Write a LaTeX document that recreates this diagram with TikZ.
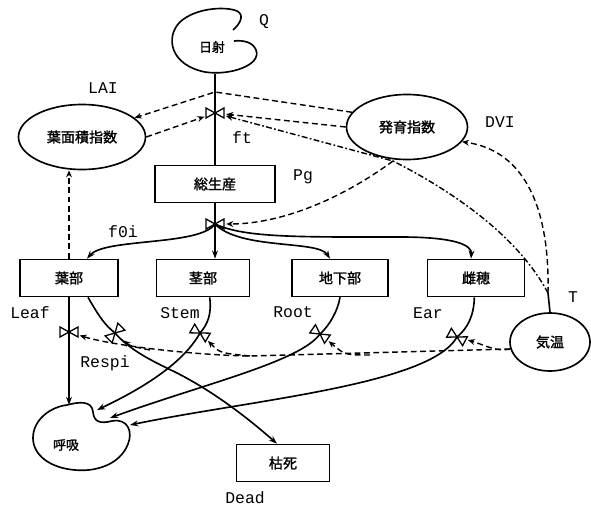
\documentclass[tikz,border=0pt]{standalone}
\usepackage{fontspec}
\newfontfamily\jfont{Noto Sans CJK JP}[FakeBold=1.5]
\newfontfamily\labfont{Liberation Mono}
\usetikzlibrary{positioning, arrows.meta, shapes.geometric}

\tikzset{
  valve/.pic={\draw[line width=1.1pt] (-9,-5) -- (9,5) -- (9,-5) -- (-9,5) -- cycle;}
}

\begin{document}
\begin{tikzpicture}[x=0.03cm,y=-0.03cm,>=Stealth,
  box/.style={draw,line width=1.4pt,minimum height=1.11cm,font=\jfont\fontsize{12}{14}\selectfont},
  oval/.style={draw,ellipse,line width=1.4pt,inner sep=0pt,font=\jfont\fontsize{12}{14}\selectfont},
  lab/.style={font=\labfont\fontsize{14}{16}\selectfont},
  vlv/.style={circle,minimum size=0.66cm,inner sep=0pt},
  flow/.style={line width=1.4pt,-{Stealth[length=7pt,width=5pt]}},
  info/.style={line width=1.2pt,dash pattern=on 5pt off 3pt,-{Stealth[length=6pt,width=5pt]}}]
  \useasboundingbox (0,0) rectangle (591,508);

  % source
  \draw[line width=1.4pt] (233,30) .. controls (240,24) and (245,15) .. (237,11)
       .. controls (225,6) and (195,8) .. (180,22) .. controls (165,37) and (170,65) .. (205,72)
       .. controls (230,76) and (262,65) .. (256,50) .. controls (253,42) and (243,40) .. (234,41);
  \node[font=\jfont\fontsize{11}{13}\selectfont] (sun) at (212,47) {日射};
  \coordinate (sunb) at (215,74);
  \node[lab] (lQ) at (264,22) {Q};

  % auxiliaries
  \node[oval,minimum width=3.81cm,minimum height=1.95cm] (lai) at (82,137) {葉面積指数};
  \node[oval,minimum width=3.63cm,minimum height=1.95cm] (dvi) at (407,127) {発育指数};
  \node[oval,minimum width=2.4cm,minimum height=1.74cm] (temp) at (550,342) {気温};

  % levels
  \node[box,minimum width=3.6cm] (pg) at (215,184) {総生産};
  \node[box,minimum width=2.94cm] (leaf) at (69,278) {葉部};
  \node[box,minimum width=2.79cm] (stem) at (203,278) {茎部};
  \node[box,minimum width=2.88cm] (root) at (340,278) {地下部};
  \node[box,minimum width=2.91cm] (ear) at (476,278) {雌穂};
  \node[box,minimum width=2.79cm] (dead) at (283,463) {枯死};

  % sink
  \draw[line width=1.4pt] (67,405) .. controls (78,402) and (92,400) .. (93,412)
       .. controls (94,422) and (100,424) .. (112,421) .. controls (128,418) and (133,432) .. (128,444)
       .. controls (120,465) and (95,472) .. (75,470) .. controls (50,468) and (33,455) .. (33,438)
       .. controls (33,420) and (50,407) .. (67,405) -- cycle;
  \node[font=\jfont\fontsize{11}{13}\selectfont] (resp) at (66,445) {呼吸};
  \coordinate (respt) at (69,405);
  \coordinate (respst) at (97,410);
  \coordinate (resprt) at (110,418);
  \coordinate (respet) at (130,425);

  % valves
  \node[vlv] (ftv) at (215,113) {};
  \coordinate (ftj) at (215,92);
  \node[vlv] (partv) at (215,224) {};
  \node[vlv] (rv1) at (69,332) {};
  \node[vlv] (dv) at (115,333) {};
  \node[vlv] (rv2) at (200,333) {};
  \node[vlv] (rv3) at (320,334) {};
  \node[vlv] (rv4) at (457,337) {};
  \coordinate (dvij) at (393,161);
  \coordinate (tj) at (548,293);
  \coordinate (b3) at (370,355);
  \coordinate (b2) at (250,356);
  \coordinate (b1) at (150,350);

  % flows
  \draw[line width=1.4pt] (sunb) -- (pg.north);
  \draw[flow] (pg.south) -- (pg.south |- stem.north);
  \draw[flow] (partv.center) .. controls (200,246) and (105,238) .. ([xshift=0.54cm]leaf.north);
  \draw[flow] (partv.center) .. controls (240,250) and (318,240) .. ([xshift=-0.3cm]root.north);
  \draw[flow] (partv.center) .. controls (245,238) and (300,237) .. (400,237)
       .. controls (455,237) and (472,245) .. ([xshift=-0.15cm]ear.north);
  \draw[flow] (leaf.south) -- (respt);
  \draw[flow] ([xshift=0.57cm]leaf.south) .. controls (100,318) and (105,325) .. (dv.center)
       .. controls (130,350) and (150,360) .. (175,372) .. controls (215,392) and (250,420) .. ([xshift=-0.18cm]dead.north);
  \draw[flow] ([xshift=0.2cm]stem.south) .. controls (212,315) and (207,325) .. (rv2.center)
       .. controls (185,360) and (150,385) .. (respst);
  \draw[flow] (root.south) .. controls (338,310) and (330,325) .. (rv3.center)
       .. controls (300,362) and (200,385) .. (resprt);
  \draw[flow] ([xshift=-0.05cm]ear.south) .. controls (474,315) and (468,328) .. (rv4.center)
       .. controls (430,385) and (250,400) .. (respet);

  % information links
  \draw[info] (dvi.165) -- (ftj) -- (lai.20);
  \draw[info] (dvi.west) -- (ftv);
  \draw[info] (lai.east) -- (ftv);
  \draw[info] (leaf.north) -- (leaf.north |- lai.south);
  \draw[line width=1.4pt] (temp.north) -- (tj);
  \draw[info,dash pattern=on 5pt off 2pt on 1.5pt off 2pt] (tj) .. controls (520,240) and (460,195) .. (dvij) -- (ftv);
  \draw[info] (dvij) .. controls (340,200) and (280,224) .. (partv);
  \draw[info] (tj) .. controls (550,200) and (520,150) .. (dvi.-15);
  \draw[info] (temp.190) .. controls (495,352) and (485,345) .. (rv4);
  \draw[info] (temp.190) -- (b2) .. controls (190,355) and (110,345) .. (rv1);
  \draw[info] (b3) .. controls (345,355) .. (rv3);
  \draw[info] (b2) .. controls (220,353) .. (rv2);
  \draw[info] (b1) .. controls (130,346) .. (dv);

  % valve symbols
  \pic at (ftv) {valve};
  \pic at (partv) {valve};
  \pic at (rv1) {valve};
  \pic[rotate=45] at (dv) {valve};
  \pic[rotate=-30] at (rv2) {valve};
  \pic[rotate=-35] at (rv3) {valve};
  \pic[rotate=-28] at (rv4) {valve};

  % labels
  \node[lab] (lLAI) at (103,88) {LAI};
  \node[lab] (lft) at (242,138) {ft};
  \node[lab] (lDVI) at (500,122) {DVI};
  \node[lab] (lPg) at (303,177) {Pg};
  \node[lab] (lf0i) at (123,232) {f0i};
  \node[lab] (lLeaf) at (30,313) {Leaf};
  \node[lab] (lStem) at (180,313) {Stem};
  \node[lab] (lRoot) at (293,312) {Root};
  \node[lab] (lEar) at (428,313) {Ear};
  \node[lab] (lT) at (573,297) {T};
  \node[lab] (lRespi) at (105,363) {Respi};
  \node[lab] (lDead) at (245,498) {Dead};
\end{tikzpicture}
\end{document}
